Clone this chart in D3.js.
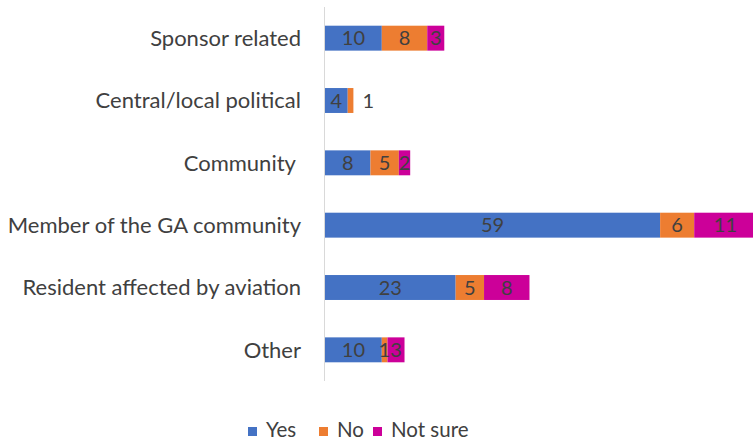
<!DOCTYPE html>
<html>
<head>
<meta charset="utf-8">
<script src="https://cdn.jsdelivr.net/npm/d3@7"></script>
<style>
  html, body { margin: 0; padding: 0; background: #fff; }
  svg { display: block; }
  text { font-family: Lato, "Open Sans", sans-serif; fill: #404040; }
</style>
</head>
<body>
<svg id="chart" width="753" height="440"></svg>
<script>
// Respondent categories (top to bottom) and stacked answer counts
const categories = [
  "Sponsor related",
  "Central/local political",
  "Community ",
  "Member of the GA community",
  "Resident affected by aviation",
  "Other"
];
const seriesNames = ["Yes", "No", "Not sure"];
const yesValues = [10, 4, 8, 59, 23, 10];
const noValues = [8, 1, 5, 6, 5, 1];
const notSureValues = [3, 0, 2, 11, 8, 3];
const seriesColors = ["#4472C4", "#ED7D31", "#CC0099"];

const rows = categories.map((c, i) => ({
  category: c,
  "Yes": yesValues[i],
  "No": noValues[i],
  "Not sure": notSureValues[i]
}));

const svg = d3.select("#chart");

const x = d3.scaleLinear().domain([0, 80]).range([325, 325 + 80 * 5.68]);
const y = d3.scaleBand().domain(categories).range([7, 381]).paddingInner(0.6).paddingOuter(0.3);
const color = d3.scaleOrdinal().domain(seriesNames).range(seriesColors);

const stacked = d3.stack().keys(seriesNames)(rows);

// Bars
const layers = svg.append("g").selectAll("g")
  .data(stacked).join("g")
  .attr("fill", d => color(d.key));

layers.selectAll("rect")
  .data(d => d.filter(p => p[1] - p[0] > 0))
  .join("rect")
  .attr("x", p => x(p[0]))
  .attr("y", p => y(p.data.category))
  .attr("width", p => x(p[1]) - x(p[0]))
  .attr("height", y.bandwidth());

// Value labels: centred in each segment; a tiny segment that ends its bar gets its label beside it
const labels = svg.append("g").attr("font-size", 20).attr("text-anchor", "middle");
stacked.forEach((layer, li) => {
  layer.forEach((p, ri) => {
    const v = p[1] - p[0];
    if (v <= 0) return;
    const endsBar = stacked.slice(li + 1).every(l => l[ri][1] - l[ri][0] === 0);
    let cx = (x(p[0]) + x(p[1])) / 2;
    if (li > 0 && endsBar && x(p[1]) - x(p[0]) < 8) cx = x(p[1]) + 15;
    labels.append("text")
      .attr("x", cx)
      .attr("y", y(p.data.category) + y.bandwidth() / 2)
      .attr("dy", "0.36em")
      .text(v);
  });
});

// Category axis line
svg.append("line")
  .attr("x1", 324.5).attr("x2", 324.5)
  .attr("y1", 7).attr("y2", 381)
  .attr("stroke", "#d9d9d9").attr("stroke-width", 1);

// Category labels
svg.append("g").attr("font-size", 22).attr("text-anchor", "end")
  .selectAll("text").data(categories).join("text")
  .attr("x", 301)
  .attr("y", d => y(d) + y.bandwidth() / 2)
  .attr("dy", "0.36em")
  .style("white-space", "pre")
  .text(d => d);

// Legend
const legendX = [248, 319, 373];
const legend = svg.append("g");
seriesNames.forEach((s, i) => {
  legend.append("rect")
    .attr("x", legendX[i]).attr("y", 427)
    .attr("width", 9).attr("height", 9)
    .attr("fill", color(s));
  legend.append("text")
    .attr("x", legendX[i] + 18).attr("y", 437)
    .attr("font-size", 20.5)
    .text(s);
});
</script>
</body>
</html>
